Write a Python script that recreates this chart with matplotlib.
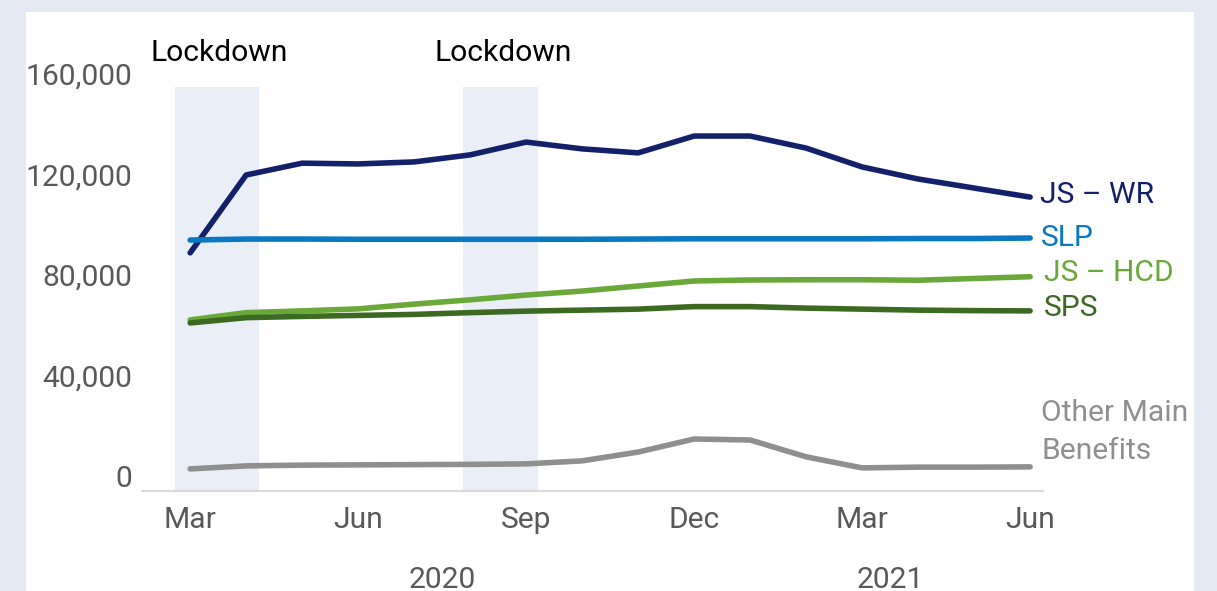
import matplotlib
matplotlib.use("Agg")
import matplotlib.pyplot as plt
import matplotlib.transforms as mtransforms
from matplotlib.patches import Rectangle
from matplotlib.ticker import FuncFormatter

plt.rcParams['font.family'] = ['Roboto', 'DejaVu Sans']

months = ["Mar", "Apr", "May", "Jun", "Jul", "Aug", "Sep", "Oct", "Nov", "Dec",
          "Jan", "Feb", "Mar", "Apr", "May", "Jun"]
years = ["2020", "2021"]
year_month_counts = [10, 6]

js_wr = [88800, 119800, 124500, 124200, 125000, 127800, 132900, 130200, 128600,
         135300, 135300, 130500, 123000, 118200, 114600, 111000]
slp = [93900, 94300, 94300, 94200, 94200, 94200, 94200, 94200, 94300,
       94400, 94400, 94400, 94400, 94500, 94500, 94700]
js_hcd = [62100, 65000, 65700, 66500, 68400, 70100, 72000, 73600, 75600,
          77600, 78000, 78100, 78100, 77900, 78600, 79300]
sps = [60900, 63000, 63500, 63900, 64300, 65000, 65600, 66000, 66400,
       67400, 67400, 66800, 66400, 66000, 65800, 65700]
other = [2800, 4000, 4300, 4400, 4500, 4600, 4800, 6000, 9500,
         14700, 14300, 7600, 3200, 3500, 3500, 3600]

series = [
    ("JS \u2013 WR", js_wr, "#13216a"),
    ("SLP", slp, "#0a78c2"),
    ("JS \u2013 HCD", js_hcd, "#6ba83a"),
    ("SPS", sps, "#3c6a22"),
    ("Other Main\nBenefits", other, "#8f8f8f"),
]
label_values = [112000, 94700, 80800, 67000, 17500]
label_x = [15.17, 15.2, 15.24, 15.24, 15.2]

lockdowns = [(-0.27, 1.23), (4.875, 6.21)]
y_ticks = [0, 40000, 80000, 120000, 160000]

W, H = 1217, 591
fig = plt.figure(figsize=(W / 100, H / 100), dpi=100)
fig.patch.set_facecolor("#e5e9f4")
fig.add_artist(Rectangle((26 / W, 0), (1194 - 26) / W, (591 - 12) / H,
                         transform=fig.transFigure, facecolor="white",
                         edgecolor="none", zorder=0))

ax = fig.add_axes([142 / W, 1 - 491 / H, (1043 - 142) / W, (491 - 74) / H])
ax.set_facecolor("none")
ax.set_xlim(-0.86, 15.23)
ax.set_ylim(-6000, 160000)

x = list(range(len(months)))

for (x0, x1) in lockdowns:
    ax.fill_between([x0, x1], -6000, 155000, color="#e9eef7", lw=0, zorder=1)
    ax.text((x0 + x1) / 2 + 0.04, 168500, "Lockdown", ha="center", va="center",
            fontsize=21.6, color="black", clip_on=False)

for (name, vals, col) in series:
    ax.plot(x, vals, color=col, lw=4.0, solid_capstyle="round",
            solid_joinstyle="round", zorder=3, clip_on=False)

for (name, vals, col), ly, lx in zip(series, label_values, label_x):
    ax.text(lx, ly, name, color=col, fontsize=21.6, ha="left", va="center",
            clip_on=False, linespacing=1.45)

ax.set_yticks(y_ticks)
ax.yaxis.set_major_formatter(FuncFormatter(lambda v, p: f"{int(v):,}"))
tick_pos = [i for i in x if months[i] in ("Mar", "Jun", "Sep", "Dec")]
ax.set_xticks(tick_pos)
ax.set_xticklabels([months[i] for i in tick_pos])
ax.tick_params(axis="both", length=0, labelsize=21.6, colors="#595959")
ax.tick_params(axis="y", pad=7)
ax.tick_params(axis="x", pad=11)

for s in ["top", "right", "left"]:
    ax.spines[s].set_visible(False)
ax.spines["bottom"].set_color("#d9d9d9")
ax.spines["bottom"].set_linewidth(1.5)

trans = mtransforms.blended_transform_factory(ax.transData, ax.transAxes)
start = 0
for yr, n in zip(years, year_month_counts):
    center = start + (n - 1) / 2
    ax.text(center, -0.213, yr, transform=trans, ha="center", va="center",
            fontsize=21.6, color="#595959", clip_on=False)
    start += n

fig.savefig("out.png", dpi=100, facecolor=fig.get_facecolor())
